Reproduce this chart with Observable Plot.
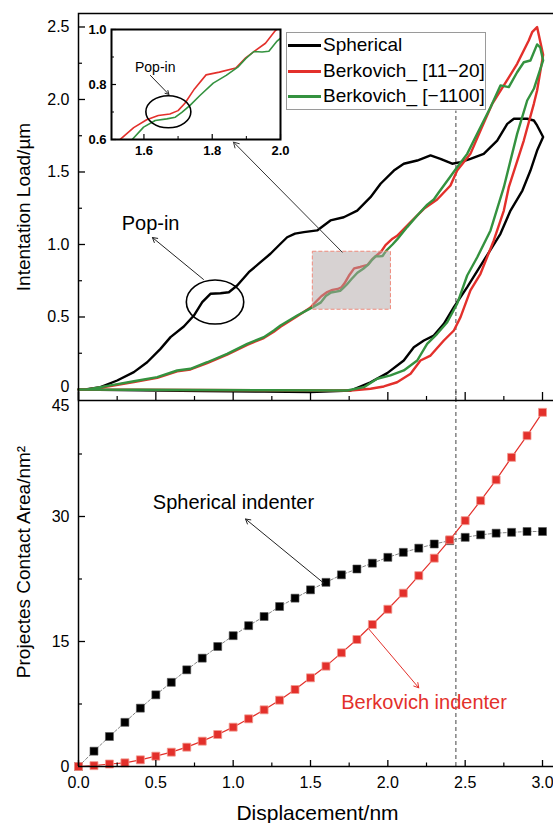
<!DOCTYPE html>
<html><head><meta charset="utf-8">
<script src="https://cdn.jsdelivr.net/npm/d3@7"></script>
<script src="https://cdn.jsdelivr.net/npm/@observablehq/plot@0.6"></script>
<style>
html,body{margin:0;padding:0;background:#fff;}
#chart{position:relative;width:553px;height:823px;overflow:hidden;font-family:"Liberation Sans",Arial,sans-serif;}
#chart > div.layer{position:absolute;left:0;}
#legend{position:absolute;left:286px;top:32px;width:200px;height:78px;border:1px solid #9a9a9a;background:#fff;box-sizing:border-box;}
#legend .row{position:absolute;left:1px;height:24px;display:flex;align-items:center;font-size:19px;color:#000;white-space:nowrap;line-height:24px;}
#legend .sw{width:33px;height:3px;margin-right:2px;}
</style></head><body><div id="chart"></div>
<script>
// ---------- data ----------
const sphX = [0,0.045,0.142,0.25,0.358,0.444,0.53,0.595,0.681,0.746,0.80,0.853,0.918,0.972,1.026,1.101,1.177,1.241,1.306,1.349,1.40,1.457,1.543,1.629,1.715,1.802,1.888,1.953,2.039,2.103,2.19,2.276,2.34,2.416,2.47,2.534,2.62,2.707,2.772,2.815,2.901,2.944,2.965,3.004,
  2.965,2.922,2.87,2.793,2.728,2.621,2.513,2.427,2.362,2.297,2.233,2.168,2.103,1.996,1.888,1.759,1.5,1.2,0.8,0.4,0];
const sphY = [0,0,0.016,0.062,0.12,0.188,0.28,0.361,0.434,0.51,0.602,0.66,0.664,0.671,0.717,0.809,0.878,0.936,1.005,1.05,1.075,1.085,1.097,1.166,1.188,1.234,1.326,1.419,1.51,1.557,1.579,1.614,1.591,1.557,1.568,1.591,1.625,1.717,1.832,1.867,1.867,1.855,1.821,1.741,
  1.648,1.51,1.372,1.234,1.074,0.89,0.706,0.568,0.453,0.372,0.338,0.292,0.2,0.113,0.05,-0.007,-0.018,-0.015,-0.01,-0.005,0];

const b1120X = [0,0.056,0.207,0.358,0.509,0.638,0.724,0.832,0.961,1.091,1.198,1.263,1.306,1.414,1.50,
  1.533,1.570,1.608,1.642,1.676,1.700,1.720,1.748,1.782,1.821,1.869,1.898,1.927,1.956,1.985,
  2.03,2.06,2.147,2.233,2.319,2.405,2.448,2.534,2.599,2.675,2.75,2.836,2.911,2.933,2.965,3.004,
  2.965,2.944,2.879,2.782,2.75,2.685,2.599,2.534,2.47,2.427,2.362,2.276,2.211,2.147,2.06,1.974,1.888,1.759,1.2,0];
const b1120Y = [0,0,0.024,0.052,0.08,0.125,0.138,0.182,0.24,0.308,0.355,0.398,0.432,0.505,0.565,
  0.603,0.643,0.672,0.687,0.693,0.705,0.732,0.784,0.835,0.845,0.860,0.897,0.924,0.950,0.996,
  1.04,1.06,1.154,1.246,1.31,1.407,1.51,1.625,1.786,1.97,2.097,2.246,2.407,2.464,2.499,2.308,
  2.062,1.97,1.717,1.395,1.234,1.028,0.798,0.683,0.499,0.407,0.338,0.234,0.2,0.108,0.05,0.021,0.005,-0.007,-0.005,0];

const b1100X = [0,0.056,0.207,0.358,0.509,0.638,0.724,0.832,0.961,1.091,1.198,1.263,1.306,1.414,1.515,
  1.565,1.599,1.633,1.667,1.692,1.711,1.735,1.764,1.803,1.841,1.875,1.898,1.922,1.946,1.966,1.990,
  2.03,2.06,2.125,2.19,2.255,2.297,2.33,2.362,2.448,2.513,2.588,2.664,2.728,2.782,2.836,2.879,2.922,2.965,2.985,3.004,
  2.944,2.901,2.836,2.75,2.664,2.578,2.513,2.448,2.384,2.319,2.254,2.19,2.103,2.017,1.931,1.845,1.737,1.2,0];
const b1100Y = [0,0,0.028,0.057,0.085,0.131,0.143,0.188,0.246,0.315,0.361,0.407,0.441,0.51,0.568,
  0.599,0.645,0.669,0.675,0.681,0.699,0.724,0.760,0.805,0.833,0.863,0.894,0.920,0.918,0.921,0.958,
  1.0,1.035,1.12,1.2,1.275,1.31,1.36,1.407,1.533,1.625,1.786,1.947,2.097,2.085,2.188,2.257,2.269,2.38,2.36,2.269,
  2.074,1.993,1.763,1.395,1.097,0.912,0.786,0.591,0.464,0.384,0.315,0.2,0.131,0.097,0.074,0.016,-0.007,-0.005,0];

const dispX = [0,0.1,0.2,0.3,0.4,0.5,0.6,0.7,0.8,0.9,1.0,1.1,1.2,1.3,1.4,1.5,1.6,1.7,1.8,1.9,2.0,2.1,2.2,2.3,2.4,2.5,2.6,2.7,2.8,2.9,3.0];
const areaSph = [0,1.84,3.6,5.3,7.0,8.6,10.1,11.6,13.0,14.4,15.7,16.9,18.0,19.2,20.2,21.2,22.1,23.0,23.7,24.4,25.1,25.7,26.2,26.7,27.1,27.5,27.8,28.0,28.1,28.2,28.2];
const areaBerk = [0,0.1,0.3,0.44,0.8,1.24,1.72,2.32,3.04,3.84,4.72,5.72,6.8,7.96,9.24,10.64,12.04,13.64,15.24,17.04,18.87,20.8,22.9,25.0,27.2,29.5,31.9,34.4,37.1,39.7,42.5];

const seriesNames = ["Spherical", "Berkovich_ [11\u221220]", "Berkovich_ [\u22121100]"];
const seriesColors = ["#000000", "#e3302b", "#34923f"];

const xTicks = [0,0.5,1,1.5,2,2.5,3];
const xMinor = [0.25,0.75,1.25,1.75,2.25,2.75];
const loadTicks = [0.5,1,1.5,2,2.5];
const loadZero = [0];
const loadMinor = [0.25,0.75,1.25,1.75,2.25];
const areaTicks = [0,15,30];
const areaTopTick = [45];
const areaMinor = [7.5,22.5,37.5];
const insetXTicks = [1.6,1.8,2.0];
const insetXMinor = [1.7,1.9];
const insetYTicks = [0.6,0.8,1.0];
const insetYMinor = [0.7,0.9];

const zoomBox = [{x1:1.515, x2:2.02, y1:0.55, y2:0.95}];
const crossX = [2.44];
const popArrow = [{x1:0.808, y1:0.759, x2:0.478, y2:1.048}];
const popLabel = [{x:0.466, y:1.145, text:"Pop-in"}];
const popEllipse = {x:0.886, y:0.60};
const zoomArrow = [{x1:1.705, y1:0.947, x2:1.002, y2:1.706}];
const insetPopArrow = [{x1:1.619, y1:0.833, x2:1.673, y2:0.764}];
const insetPopLabel = [{x:1.633, y:0.863, text:"Pop-in"}];
const insetEllipse = {x:1.673, y:0.699};
const sphArrow = [{x1:1.586, y1:22.0, x2:1.08, y2:29.7}];
const sphLabel = [{x:1.002, y:31.7, text:"Spherical indenter"}];
const berkArrow = [{x1:1.877, y1:16.5, x2:2.20, y2:9.44}];
const berkLabel = [{x:2.234, y:7.72, text:"Berkovich indenter"}];

// ---------- build ----------
const FONT = '"Liberation Sans", Arial, sans-serif';
const rows = (xs, ys) => xs.map((x, i) => ({x, y: ys[i]}));
const sph = rows(sphX, sphY), b1120 = rows(b1120X, b1120Y), b1100 = rows(b1100X, b1100Y);
const aSph = rows(dispX, areaSph), aBerk = rows(dispX, areaBerk);
const [cBlack, cRed, cGreen] = seriesColors;

const W = 556, PXU = 154.67;
const xDom = [0, (W - 78) / PXU];
const topYDom = [-0.0759, 2.593];
const svgStyle = {background: "transparent", overflow: "visible", fontFamily: FONT, color: "#000", maxWidth: "none"};
const fmt1 = d => d.toFixed(1);

function addEllipse(svg, cx, cy, rx, ry, sw) {
  const sx = svg.scale("x"), sy = svg.scale("y");
  d3.select(svg).append("ellipse")
    .attr("cx", sx.apply(cx)).attr("cy", sy.apply(cy))
    .attr("rx", rx).attr("ry", ry)
    .attr("fill", "none").attr("stroke", "#000").attr("stroke-width", sw);
}

const chart = document.getElementById("chart");
function layer(el, top, left = 0) {
  const d = document.createElement("div");
  d.className = "layer";
  d.style.position = "absolute";
  d.style.top = top + "px";
  d.style.left = left + "px";
  d.appendChild(el);
  chart.appendChild(d);
  return d;
}

// bottom panel
const bottom = Plot.plot({
  width: W, height: 432, marginLeft: 78, marginRight: 0, marginTop: 0, marginBottom: 57,
  style: svgStyle,
  x: {domain: xDom, label: null},
  y: {domain: [0, 45], label: null},
  marks: [
    Plot.ruleX(crossX, {stroke: "#444", strokeWidth: 1, strokeDasharray: "4,3"}),
    Plot.line(aSph, {x: "x", y: "y", stroke: "#777", strokeWidth: 0.9, strokeDasharray: "3,2"}),
    Plot.dot(aSph, {x: "x", y: "y", symbol: "square", r: 4.5, fill: "#000", stroke: "#555", strokeWidth: 0.6}),
    Plot.line(aBerk, {x: "x", y: "y", stroke: cRed, strokeWidth: 1.2}),
    Plot.dot(aBerk, {x: "x", y: "y", symbol: "square", r: 4.5, fill: cRed, stroke: "#f29a90", strokeWidth: 0.8}),
    Plot.arrow(sphArrow, {x1: "x1", y1: "y1", x2: "x2", y2: "y2", stroke: "#222", strokeWidth: 1, headLength: 8}),
    Plot.text(sphLabel, {x: "x", y: "y", text: "text", fontSize: 20, fill: "#000"}),
    Plot.arrow(berkArrow, {x1: "x1", y1: "y1", x2: "x2", y2: "y2", stroke: cRed, strokeWidth: 1, headLength: 8}),
    Plot.text(berkLabel, {x: "x", y: "y", text: "text", fontSize: 20, fill: cRed}),
    Plot.ruleX([0], {stroke: "#000", strokeWidth: 1.5}),
    Plot.ruleY([0], {stroke: "#000", strokeWidth: 1.5}),
    Plot.axisY(areaTicks, {anchor: "left", tickSize: 0, tickPadding: 9, fontSize: 16, label: null, tickFormat: d => String(d)}),
    Plot.axisY(areaTopTick, {anchor: "left", tickSize: 0, tickPadding: 9, fontSize: 16, label: null, dy: 14, tickFormat: d => String(d)}),
    Plot.axisY([15, 30], {anchor: "left", tickSize: 7, dx: 7, fill: "none", label: null, strokeWidth: 1.3}),
    Plot.axisY(areaMinor, {anchor: "left", tickSize: 4, dx: 4, fill: "none", label: null, strokeWidth: 1.2}),
    Plot.axisX(xTicks, {anchor: "bottom", tickSize: 0, tickPadding: 10, fontSize: 16, label: null, tickFormat: fmt1}),
    Plot.axisX(xTicks, {anchor: "bottom", tickSize: 6, dy: -6, fill: "none", label: null, strokeWidth: 1.3}),
    Plot.axisX(xMinor, {anchor: "bottom", tickSize: 3.5, dy: -3.5, fill: "none", label: null, strokeWidth: 1.2}),
    Plot.text(["Displacement/nm"], {text: d => d, frameAnchor: "bottom", textAnchor: "middle", dy: 53, fontSize: 21, fill: "#000"}),
    Plot.text(["Projectes Contact Area/nm\u00b2"], {text: d => d, frameAnchor: "left", textAnchor: "middle", dx: -55, dy: -17, rotate: -90, fontSize: 19, fill: "#000"})
  ]
});
layer(bottom, 391);

// top panel
const topPlot = Plot.plot({
  width: W, height: 401, marginLeft: 78, marginRight: 0, marginTop: 13, marginBottom: 1,
  style: svgStyle,
  x: {domain: xDom, label: null},
  y: {domain: topYDom, label: null},
  marks: [
    Plot.ruleX(crossX, {y1: topYDom[0], y2: 1.92, stroke: "#444", strokeWidth: 1, strokeDasharray: "4,3"}),
    Plot.line(sph, {x: "x", y: "y", stroke: cBlack, strokeWidth: 2.4}),
    Plot.line(b1120, {x: "x", y: "y", stroke: cRed, strokeWidth: 2.4}),
    Plot.line(b1100, {x: "x", y: "y", stroke: cGreen, strokeWidth: 2.4}),
    Plot.rect(zoomBox, {x1: "x1", x2: "x2", y1: "y1", y2: "y2", fill: "#b0a6a6", fillOpacity: 0.5, stroke: "#ee8a7c", strokeWidth: 1, strokeDasharray: "4,2"}),
    Plot.arrow(popArrow, {x1: "x1", y1: "y1", x2: "x2", y2: "y2", stroke: "#222", strokeWidth: 1, headLength: 8}),
    Plot.text(popLabel, {x: "x", y: "y", text: "text", fontSize: 20, fill: "#000"}),
    Plot.arrow(zoomArrow, {x1: "x1", y1: "y1", x2: "x2", y2: "y2", stroke: "#333", strokeWidth: 1, headLength: 9}),
    Plot.frame({stroke: "#000", strokeWidth: 1.5}),
    Plot.axisY(loadTicks, {anchor: "left", tickSize: 0, tickPadding: 9, fontSize: 16, label: null, tickFormat: fmt1}),
    Plot.axisY(loadZero, {anchor: "left", tickSize: 0, tickPadding: 9, fontSize: 16, label: null, dy: -3, tickFormat: d => "0"}),
    Plot.axisY(loadTicks, {anchor: "left", tickSize: 7, dx: 7, fill: "none", label: null, strokeWidth: 1.3}),
    Plot.axisY(loadMinor, {anchor: "left", tickSize: 4, dx: 4, fill: "none", label: null, strokeWidth: 1.2}),
    Plot.axisX(xTicks, {anchor: "bottom", tickSize: 8, dy: -8, fill: "none", label: null, strokeWidth: 1.3}),
    Plot.axisX(xMinor, {anchor: "bottom", tickSize: 4, dy: -4, fill: "none", label: null, strokeWidth: 1.2}),
    Plot.text(["Intentation Load/\u00b5m"], {text: d => d, frameAnchor: "left", textAnchor: "middle", dx: -55, rotate: -90, fontSize: 19, fill: "#000"})
  ]
});
addEllipse(topPlot, popEllipse.x, popEllipse.y, 28.7, 22, 1.6);
layer(topPlot, 0);

// inset
const inRange = d => d.x >= 1.4 && d.x <= 2.1;
const inset = Plot.plot({
  width: 210, height: 140, marginLeft: 31, marginRight: 10, marginTop: 8, marginBottom: 22,
  style: svgStyle,
  x: {domain: [1.505, 2.0], label: null},
  y: {domain: [0.6, 1.0], label: null},
  marks: [
    Plot.frame({fill: "#fff", stroke: null}),
    Plot.line(b1120.slice(0, 40).filter(inRange), {x: "x", y: "y", stroke: cRed, strokeWidth: 1.6, clip: true}),
    Plot.line(b1100.slice(0, 40).filter(inRange), {x: "x", y: "y", stroke: cGreen, strokeWidth: 1.6, clip: true}),
    Plot.arrow(insetPopArrow, {x1: "x1", y1: "y1", x2: "x2", y2: "y2", stroke: "#222", strokeWidth: 1, headLength: 6}),
    Plot.text(insetPopLabel, {x: "x", y: "y", text: "text", fontSize: 14, fill: "#000"}),
    Plot.axisY(insetYTicks, {anchor: "left", tickSize: 0, tickPadding: 5, fontSize: 13, fontWeight: "bold", label: null, tickFormat: fmt1}),
    Plot.axisY(insetYTicks, {anchor: "left", tickSize: 5, dx: 5, fill: "none", label: null, strokeWidth: 1.2}),
    Plot.axisY(insetYMinor, {anchor: "left", tickSize: 3, dx: 3, fill: "none", label: null, strokeWidth: 1}),
    Plot.axisX(insetXTicks, {anchor: "bottom", tickSize: 0, tickPadding: 6, fontSize: 13, fontWeight: "bold", label: null, tickFormat: fmt1}),
    Plot.axisX(insetXTicks, {anchor: "bottom", tickSize: 5, dy: -5, fill: "none", label: null, strokeWidth: 1.2}),
    Plot.axisX(insetXMinor, {anchor: "bottom", tickSize: 3, dy: -3, fill: "none", label: null, strokeWidth: 1}),
    Plot.frame({stroke: "#000", strokeWidth: 2})
  ]
});
addEllipse(inset, insetEllipse.x, insetEllipse.y, 22.5, 16, 1.6);
layer(inset, 21, 80);

// legend
const legend = document.createElement("div");
legend.id = "legend";
seriesNames.forEach((name, i) => {
  const r = document.createElement("div");
  r.className = "row";
  r.style.top = [0, 26, 51][i] + "px";
  const sw = document.createElement("span");
  sw.className = "sw";
  sw.style.background = seriesColors[i];
  const t = document.createElement("span");
  t.textContent = name;
  r.appendChild(sw); r.appendChild(t);
  legend.appendChild(r);
});
chart.appendChild(legend);
</script></body></html>
